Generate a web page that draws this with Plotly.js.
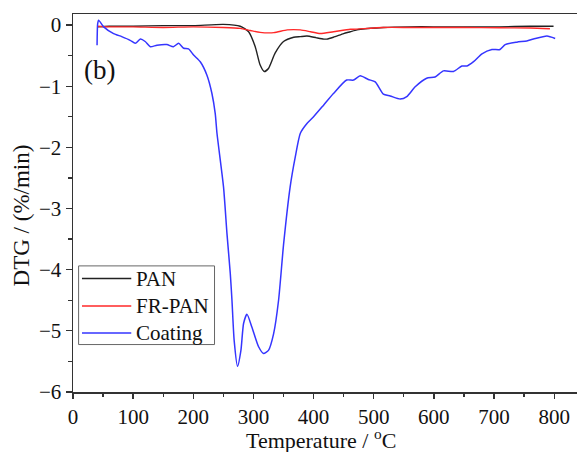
<!DOCTYPE html>
<html>
<head>
<meta charset="utf-8">
<script src="https://cdn.plot.ly/plotly-3.0.1.min.js"></script>
<style>html,body{margin:0;padding:0;background:#fff;}#chart{width:577px;height:452px;}</style>
</head>
<body>
<div id="chart"></div>
<script>
// Temperature (°C) and DTG (%/min)
const panT = [40, 60, 100, 150, 200, 250, 278, 292, 303, 311, 318, 325, 336, 350, 367, 378, 389, 405, 417, 422, 433, 450, 461, 472, 478, 516, 560, 599, 650, 709, 760, 799];
const panY = [-0.03, -0.02, -0.02, -0.01, -0.01, 0.01, -0.02, -0.11, -0.355, -0.65, -0.76, -0.71, -0.46, -0.27, -0.20, -0.19, -0.18, -0.21, -0.23, -0.23, -0.20, -0.14, -0.11, -0.08, -0.07, -0.04, -0.03, -0.03, -0.03, -0.03, -0.02, -0.02];

const frT = [40, 60, 100, 150, 200, 250, 278, 295, 311, 334, 356, 378, 395, 411, 433, 461, 466, 516, 560, 599, 650, 709, 760, 793];
const frY = [-0.02, -0.03, -0.03, -0.04, -0.03, -0.04, -0.055, -0.09, -0.12, -0.125, -0.08, -0.08, -0.11, -0.14, -0.11, -0.07, -0.07, -0.04, -0.04, -0.04, -0.04, -0.045, -0.05, -0.06];

const coatT = [40, 41, 42.6, 51, 67.5, 81, 95, 103.6, 112, 120, 128.5, 139.6, 156, 167, 175.5, 184, 192, 200.5, 211.6, 222.7, 231, 236.5, 239.4, 250.3, 256, 261.5, 264.3, 268, 273.6, 279.2, 283.6, 289.2, 297.5, 308.6, 316.8, 325, 333.5, 341.8, 350, 361, 369.5, 378, 389, 400, 416.6, 433, 455, 466.5, 477.5, 491, 502.5, 516, 527.4, 544, 555, 569, 588, 602, 616, 632.6, 646.6, 655, 666, 680, 696.5, 710, 718.6, 738, 754.6, 765.6, 788, 801.7];
const coatY = [-0.33, 0.02, 0.08, -0.03, -0.14, -0.19, -0.25, -0.30, -0.23, -0.27, -0.355, -0.33, -0.32, -0.355, -0.30, -0.38, -0.39, -0.49, -0.60, -0.82, -1.12, -1.45, -1.77, -2.65, -3.41, -4.06, -4.50, -5.16, -5.58, -5.32, -4.88, -4.73, -4.94, -5.26, -5.37, -5.32, -5.05, -4.50, -3.60, -2.65, -2.16, -1.77, -1.61, -1.50, -1.31, -1.12, -0.90, -0.90, -0.83, -0.89, -0.93, -1.13, -1.16, -1.21, -1.17, -1.01, -0.87, -0.85, -0.75, -0.76, -0.67, -0.67, -0.60, -0.47, -0.40, -0.40, -0.32, -0.28, -0.26, -0.23, -0.18, -0.22];

const names = ["PAN", "FR-PAN", "Coating"];
const colors = ["#222222", "#ff2828", "#3535ff"];
const xTicks = [0, 100, 200, 300, 400, 500, 600, 700, 800];
const yTicks = [-6, -5, -4, -3, -2, -1, 0];

const FONT = "Liberation Serif, Times New Roman, serif";

const series = [[panT, panY], [frT, frY], [coatT, coatY]];
const traces = series.map((s, i) => ({
  x: s[0], y: s[1], name: names[i], mode: "lines",
  line: {color: colors[i], width: i === 2 ? 1.5 : 1.4, shape: "spline", smoothing: 0.6}
}));

// Legend drawn as a framed key (paper coordinates) so its spacing matches the reference
const legBox = {x0: 0.0111, x1: 0.2808, y0: 0.1255, y1: 0.3336};
const legRows = [0.3002, 0.2277, 0.1562];
const shapes = [{
  type: "rect", xref: "paper", yref: "paper",
  x0: legBox.x0, x1: legBox.x1, y0: legBox.y0, y1: legBox.y1,
  line: {color: "#666", width: 1}, fillcolor: "#fff", layer: "above"
}];
const annotations = [];
names.forEach((n, i) => {
  shapes.push({
    type: "line", xref: "paper", yref: "paper",
    x0: 0.0178, x1: 0.1156, y0: legRows[i], y1: legRows[i],
    line: {color: colors[i], width: 1.5}, layer: "above"
  });
  annotations.push({
    text: n, xref: "paper", yref: "paper", x: 0.122, y: legRows[i],
    xanchor: "left", yanchor: "middle", showarrow: false,
    font: {family: FONT, size: 21, color: "#111"}
  });
});
annotations.push({
  text: "(b)", xref: "paper", yref: "paper", x: 0.052, y: 0.852,
  xanchor: "center", yanchor: "middle", showarrow: false,
  font: {family: FONT, size: 27, color: "#111"}
});
annotations.push({
  text: "DTG / (%/min)", xref: "paper", yref: "paper",
  x: -0.1025, y: 0.468, xanchor: "center", yanchor: "middle", textangle: -90,
  showarrow: false, font: {family: FONT, size: 23, color: "#111"}
});
annotations.push({
  text: "Temperature / <sup>o</sup>C", xref: "paper", yref: "paper",
  x: 0.4924, y: -0.125, xanchor: "center", yanchor: "middle",
  showarrow: false, font: {family: FONT, size: 22, color: "#111"}
});

const layout = {
  width: 577, height: 452,
  margin: {l: 73, r: 0, t: 14, b: 60},
  paper_bgcolor: "#fff", plot_bgcolor: "#fff",
  font: {family: FONT, color: "#111", size: 21},
  showlegend: false,
  xaxis: {
    range: [0, 838], tickvals: xTicks,
    ticks: "outside", ticklen: 5, tickwidth: 1.3, tickcolor: "#333",
    minor: {dtick: 50, ticks: "outside", ticklen: 3, tickwidth: 1.3, tickcolor: "#333", showgrid: false},
    showline: true, linecolor: "#333", linewidth: 1.5, mirror: true,
    showgrid: false, zeroline: false,
    tickfont: {family: FONT, size: 21, color: "#111"}
  },
  yaxis: {
    range: [-6, 0.18], tickvals: yTicks,
    ticks: "outside", ticklen: 6, tickwidth: 1.3, tickcolor: "#333",
    minor: {dtick: 0.5, ticks: "outside", ticklen: 4, tickwidth: 1.3, tickcolor: "#333", showgrid: false},
    showline: true, linecolor: "#333", linewidth: 1.5,
    showgrid: false, zeroline: false,
    tickfont: {family: FONT, size: 21, color: "#111"}
  },
  shapes: shapes,
  annotations: annotations
};

Plotly.newPlot("chart", traces, layout, {displayModeBar: false, staticPlot: true});
</script>
</body>
</html>
